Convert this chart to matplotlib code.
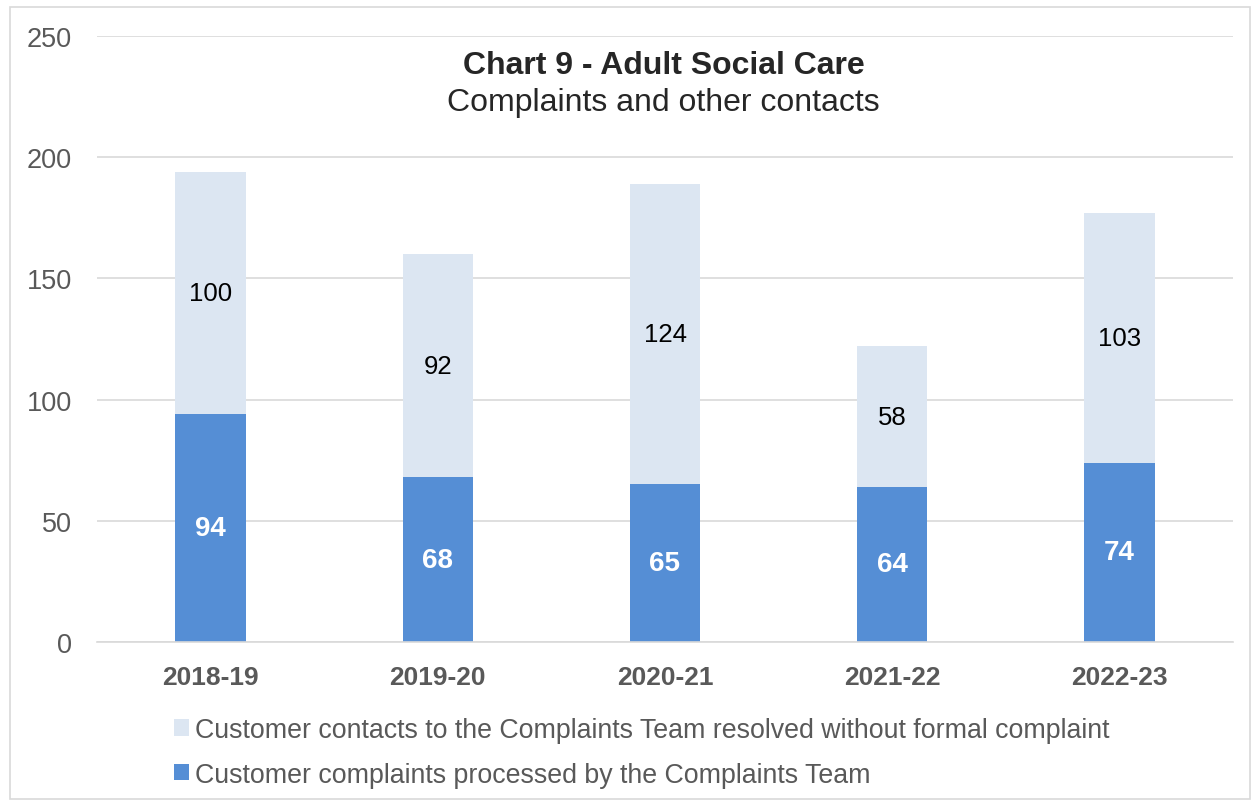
import matplotlib
matplotlib.use("Agg")
import matplotlib.pyplot as plt
from matplotlib.patches import Patch, Rectangle

years = ["2018-19", "2019-20", "2020-21", "2021-22", "2022-23"]
complaints = [94, 68, 65, 64, 74]
contacts = [100, 92, 124, 58, 103]
label_contacts = "Customer contacts to the Complaints Team resolved without formal complaint"
label_complaints = "Customer complaints processed by the Complaints Team"
title = "Chart 9 - Adult Social Care"
subtitle = "Complaints and other contacts"

plt.rcParams['font.family'] = ['Liberation Sans', 'DejaVu Sans']

W, H = 1252, 804
fig = plt.figure(figsize=(W / 100, H / 100), dpi=100)
fig.patches.append(Rectangle((10 / W, 1 - 800 / H), (1250 - 10) / W, (800 - 8) / H,
                             transform=fig.transFigure, fill=False, edgecolor="#D9D9D9", linewidth=1.2))

ax = fig.add_axes([97 / W, 1 - 643 / H, (1233 - 97) / W, (643 - 37) / H])

dark = "#558ED5"
light = "#DCE6F2"
x = list(range(len(years)))
w = 0.31
ax.bar(x, complaints, width=w, color=dark, zorder=3)
ax.bar(x, contacts, width=w, bottom=complaints, color=light, zorder=3)

for i in x:
    ax.text(i, complaints[i] / 2, str(complaints[i]), ha="center", va="center",
            color="white", fontsize=20, fontweight="bold", zorder=4)
    ax.text(i, complaints[i] + contacts[i] / 2, str(contacts[i]), ha="center", va="center",
            color="black", fontsize=18.5, zorder=4)

ax.set_xlim(-0.5, len(years) - 0.5)
ax.set_ylim(0, 250)
ax.set_yticks([0, 50, 100, 150, 200, 250])
ax.yaxis.grid(True, color="#D9D9D9", linewidth=1.2, zorder=0)
ax.set_axisbelow(True)
for s in ["top", "right", "left"]:
    ax.spines[s].set_visible(False)
ax.spines["bottom"].set_color("#D9D9D9")
ax.spines["bottom"].set_linewidth(1.2)
ax.spines["bottom"].set_zorder(5)
ax.tick_params(axis="y", length=0, pad=18, labelsize=19.5, labelcolor="#595959")
ax.tick_params(axis="x", length=0, pad=16.5, labelsize=19, labelcolor="#595959")
ax.set_xticks(x)
ax.set_xticklabels(years, fontweight="bold")

fig.text(664 / W, 1 - 66 / H, title, ha="center", va="center", fontsize=23,
         fontweight="bold", color="#262626")
fig.text(663 / W, 1 - 103 / H, subtitle, ha="center", va="center", fontsize=23,
         color="#262626")

handles = [Patch(facecolor=light, edgecolor="none", label=label_contacts),
           Patch(facecolor=dark, edgecolor="none", label=label_complaints)]
fig.legend(handles=handles, loc="upper left", bbox_to_anchor=(174 / W, 1 - 718 / H),
           frameon=False, fontsize=19.25, labelcolor="#595959", handlelength=0.55,
           handleheight=0.55, handletextpad=0.25, labelspacing=0.7, borderaxespad=0,
           borderpad=0)

fig.savefig("out.png", dpi=100)
